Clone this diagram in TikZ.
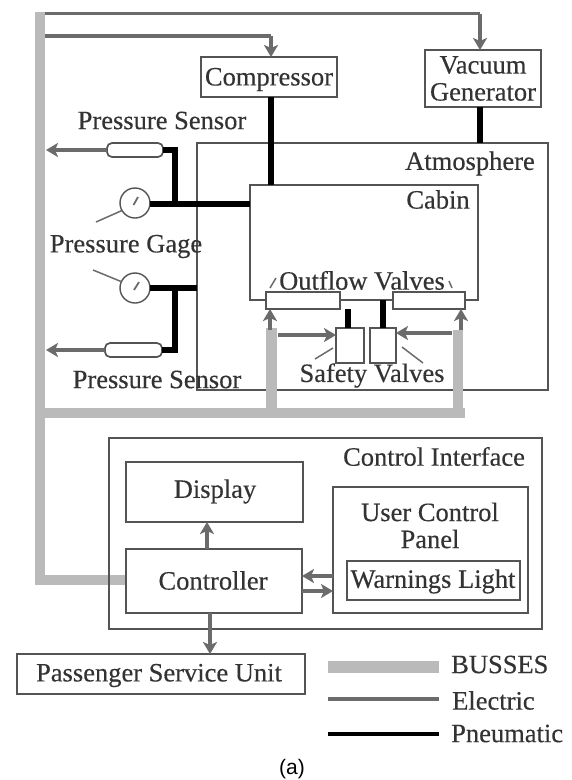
\documentclass[tikz,border=0pt]{standalone}
\usepackage{fontspec}
\setmainfont{Liberation Serif}
\newfontfamily\capfont{Liberation Sans}
\usetikzlibrary{arrows.meta}
\definecolor{bus}{gray}{0.73}
\definecolor{elec}{gray}{0.42}
\definecolor{ink}{gray}{0.2}
\definecolor{edge}{gray}{0.33}
\tikzset{
 x=1pt,y=-1pt,
 box/.style={draw=edge,line width=1.7pt,inner sep=0pt,outer sep=0pt,anchor=north west},
 wbox/.style={box,fill=white},
 sensor/.style={wbox,rounded corners=5pt},
 gage/.style={circle,draw=edge,line width=1.4pt,fill=white,minimum size=30pt,inner sep=0pt,outer sep=0pt},
 lab/.style={text=ink,font=\fontsize{26.5}{27}\selectfont\addfontfeature{FakeBold=0.3},inner sep=0pt,align=center,yshift=-2.5pt},
 busline/.style={draw=bus,line width=10.5pt},
 eline/.style={draw=elec,line width=3.6pt},
 earrow/.style={draw=elec,line width=3.6pt,-{Stealth[length=12pt,width=14pt,inset=3pt]}},
 pline/.style={draw=black,line width=6.5pt},
 leader/.style={draw=elec,line width=1.5pt},
}
\newcommand{\bx}[6][box]{\node[#1,minimum width=#5-#3,minimum height=#6-#4] (#2) at (#3,#4) {};}
\begin{document}
\begin{tikzpicture}
\useasboundingbox (0,0) rectangle (571,780);
\fill[white] (0,0) rectangle (571,780);
% named bus and junction points
\coordinate (bt) at (40,12);
\coordinate (bc) at (40,580);
\coordinate (bh) at (40,413);
\coordinate (bl) at (271.5,328);
\coordinate (blb) at (271.5,413);
\coordinate (br) at (458,330);
\coordinate (brb) at (465,413);
\coordinate (brv) at (458,413);
\coordinate (e1) at (45,13.5);
\coordinate (e1c) at (480,13.5);
\coordinate (e2) at (45,36);
\coordinate (e2c) at (271,36);
\coordinate (s1e) at (46,150);
\coordinate (s2e) at (46,350);
\coordinate (j1c) at (175,150);
\coordinate (j1) at (175,204);
\coordinate (j2) at (175,288);
\coordinate (j2c) at (175,350);
% boxes
\bx{atm}{197}{143}{548}{390}
\bx[wbox]{comp}{201}{57}{337}{97}
\bx[wbox]{vac}{425}{50}{541}{107}
\bx[wbox]{cabin}{250}{185}{478}{300}
\bx[sensor]{s1}{107}{143}{163}{157}
\bx[sensor]{s2}{105}{343}{162}{357}
\node[gage] (g1) at (135,203) {};
\node[gage] (g2) at (135,288) {};
\bx[wbox]{ov1}{266}{292}{340}{309}
\bx[wbox]{ov2}{393}{292}{465}{309}
\bx[wbox]{sv1}{336}{328}{364}{363}
\bx[wbox]{sv2}{370}{328}{396}{363}
% busses
\draw[busline] (bt) -- (bc) -- (126,580);
\draw[busline] (bh) -- (brb);
\draw[busline] (bl) -- (blb);
\draw[busline] (br) -- (brv);
% pneumatic
\draw[pline] (271,97) -- (271,185);
\draw[pline] (480,107) -- (480,143);
\draw[pline] (g1.east) ++(0,1) -- (250,204);
\draw[pline] (s1.east) -- (j1c) -- (j1);
\draw[pline] (g2.east) -- (197,288);
\draw[pline] (j2) -- (j2c) -- (s2.east);
\draw[pline] (348,309) -- (348,328);
\draw[pline] (383,300) -- (383,328);
% electric
\draw[eline] (e1) -- (e1c);
\draw[earrow] (e1c) -- (vac.north -| e1c);
\draw[eline] (e2) -- (e2c);
\draw[earrow] (e2c) -- (comp.north -| e2c);
\draw[earrow] (s1.west) -- (s1e);
\draw[earrow] (s2.west) -- (s2e);
\draw[earrow] (270,330) -- (270,309);
\draw[earrow] (461,330) -- (461,309);
\draw[earrow] (278,335) -- (sv1.west |- 0,335);
\draw[earrow] (452,333) -- (sv2.east |- 0,333);
% leaders and needles
\coordinate (l1) at (96,222);
\coordinate (l2) at (93,270);
\draw[leader] (l1) -- (g1.210);
\draw[leader] (l2) -- (g2.155);
\draw[leader,line width=1.8pt] (133.5,205) -- (138,197);
\draw[leader,line width=1.8pt] (134,290) -- (139,282);
\coordinate (l3) at (315,359);
\coordinate (l4) at (423,363);
\coordinate (l5) at (270,288);
\coordinate (l6) at (452,288);
\draw[leader] (l3) -- (333,348);
\draw[leader] (l4) -- (402,347);
\draw[leader] (l5) -- (276,278);
\draw[leader] (l6) -- (449,281);
% lower part
\bx{ci}{109}{438}{542}{629}
\bx{disp}{126}{462}{303}{522}
\bx[wbox]{ctrl}{126}{549}{302}{613}
\bx{ucp}{333}{487}{528}{613}
\bx{warn}{347}{561}{520}{600}
\bx{psu}{17}{654}{305}{694}
\draw[earrow] (207,549) -- (207,522);
\draw[earrow] (ucp.west |- 0,576) -- (ctrl.east |- 0,576);
\draw[earrow] (ctrl.east |- 0,591) -- (ucp.west |- 0,591);
\draw[earrow] (210,613) -- (210,654);
% legend
\coordinate (k1) at (328,667); \coordinate (k1e) at (439,667);
\coordinate (k2) at (328,699); \coordinate (k2e) at (439,699);
\coordinate (k3) at (328,734); \coordinate (k3e) at (439,734);
\draw[draw=bus,line width=12pt] (k1) -- (k1e);
\draw[draw=elec,line width=3.8pt] (k2) -- (k2e);
\draw[draw=black,line width=4.5pt] (k3) -- (k3e);
% labels
\node[lab] (tcomp) at (269,77) {Compressor};
\node[lab] (tvac) at (483,76) {Vacuum\\Generator};
\node[lab] (tatm) at (470,161) {Atmosphere};
\node[lab] (tcab) at (438,197) {Cabin};
\node[lab] (tps1) at (162,118) {Pressure Sensor};
\node[lab] (tpg) at (126,244) {Pressure Gage};
\node[lab] (tps2) at (157,377) {Pressure Sensor};
\node[lab] (tov) at (362,278) {Outflow Valves};
\node[lab] (tsv) at (372,373) {Safety Valves};
\node[lab] (tci) at (434,454) {Control Interface};
\node[lab] (tdi) at (215,489) {Display};
\node[lab] (tct) at (213,578) {Controller};
\node[lab] (tuc) at (430,523) {User Control\\Panel};
\node[lab] (twl) at (433,579) {Warnings Light};
\node[lab] (tpsu) at (159,673) {Passenger Service Unit};
\node[lab,anchor=west] (tk1) at (451,662) {BUSSES};
\node[lab,anchor=west] (tk2) at (452,698) {Electric};
\node[lab,anchor=west] (tk3) at (451,731) {Pneumatic};
\node[inner sep=0pt,font=\capfont\fontsize{21}{24}\selectfont] (tcap) at (292,769) {(a)};
\end{tikzpicture}
\end{document}
